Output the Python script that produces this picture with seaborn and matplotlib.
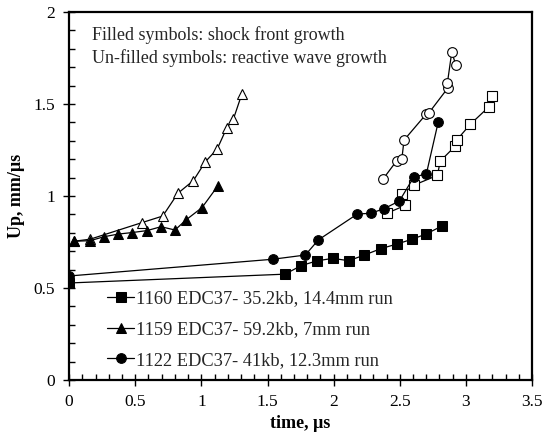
import numpy as np
import matplotlib
matplotlib.use('Agg')
import matplotlib.pyplot as plt
import seaborn as sns
from matplotlib.ticker import MultipleLocator

# shot 1160 - shock front (filled squares) and reactive wave (open squares)
t_1160 = [0.0, 1.633, 1.753, 1.872, 1.993, 2.114, 2.232, 2.358, 2.479, 2.593, 2.698, 2.819]
up_1160 = [0.527, 0.575, 0.621, 0.647, 0.661, 0.648, 0.679, 0.714, 0.739, 0.765, 0.793, 0.837]
t_1160r = [2.401, 2.542, 2.519, 2.610, 2.784, 2.806, 2.920, 2.930, 3.033, 3.175, 3.194]
up_1160r = [0.906, 0.949, 1.013, 1.060, 1.112, 1.190, 1.272, 1.304, 1.390, 1.486, 1.543]

# shot 1159 - triangles
t_1159 = [0.038, 0.159, 0.267, 0.373, 0.474, 0.590, 0.695, 0.801, 0.884, 1.005, 1.124]
up_1159 = [0.754, 0.757, 0.779, 0.793, 0.801, 0.812, 0.833, 0.815, 0.870, 0.937, 1.054]
t_1159r = [0.038, 0.159, 0.550, 0.708, 0.823, 0.940, 1.030, 1.120, 1.192, 1.242, 1.305]
up_1159r = [0.754, 0.765, 0.855, 0.891, 1.015, 1.084, 1.186, 1.256, 1.370, 1.418, 1.552]

# shot 1122 - circles
t_1122 = [0.0, 1.539, 1.786, 1.884, 2.179, 2.280, 2.381, 2.497, 2.605, 2.701, 2.791]
up_1122 = [0.565, 0.656, 0.679, 0.761, 0.902, 0.906, 0.931, 0.973, 1.102, 1.121, 1.404]
t_1122r = [2.371, 2.477, 2.515, 2.532, 2.698, 2.721, 2.865, 2.860, 2.893, 2.923]
up_1122r = [1.090, 1.192, 1.199, 1.304, 1.444, 1.453, 1.589, 1.616, 1.784, 1.712]

labels = ['1160 EDC37- 35.2kb, 14.4mm run',
          '1159 EDC37- 59.2kb, 7mm run',
          '1122 EDC37- 41kb, 12.3mm run']

sns.set_theme(style='ticks')
plt.rcParams['font.family'] = ['Liberation Serif', 'DejaVu Serif']

fig = plt.figure(figsize=(5.48, 4.48), dpi=100)
ax = fig.add_axes([0.126, 0.152, 0.845, 0.821])

lw = 0.9
# reactive wave (open symbols)
sns.lineplot(x=t_1160r, y=up_1160r, sort=False, ax=ax, color='black', lw=lw,
             marker='s', ms=7, mfc='white', mec='black', mew=0.8)
sns.lineplot(x=t_1159r, y=up_1159r, sort=False, ax=ax, color='black', lw=lw,
             marker='^', ms=7, mfc='white', mec='black', mew=0.8)
sns.lineplot(x=t_1122r, y=up_1122r, sort=False, ax=ax, color='black', lw=lw,
             marker='o', ms=7, mfc='white', mec='black', mew=0.8)

# shock front (filled symbols)
sns.lineplot(x=t_1160, y=up_1160, sort=False, ax=ax, color='black', lw=lw,
             marker='s', ms=7, mfc='black', mec='black', label=labels[0])
sns.lineplot(x=t_1159, y=up_1159, sort=False, ax=ax, color='black', lw=lw,
             marker='^', ms=7, mfc='black', mec='black', label=labels[1])
sns.lineplot(x=t_1122, y=up_1122, sort=False, ax=ax, color='black', lw=lw,
             marker='o', ms=7, mfc='black', mec='black', label=labels[2])

ax.set_xlim(0, 3.5)
ax.set_ylim(0, 2)
ax.xaxis.set_major_locator(MultipleLocator(0.5))
ax.xaxis.set_minor_locator(MultipleLocator(0.1))
ax.yaxis.set_major_locator(MultipleLocator(0.5))
ax.yaxis.set_minor_locator(MultipleLocator(0.1))
ax.set_xticklabels([f'{v:g}' for v in ax.get_xticks()])
ax.set_yticklabels([f'{v:g}' for v in ax.get_yticks()])
ax.tick_params(which='major', direction='inout', length=8, width=1, labelsize=12.5,
               colors='black', pad=6)
ax.tick_params(which='minor', direction='in', length=4, width=1, colors='black')
for s in ax.spines.values():
    s.set_visible(True)
    s.set_color('black')
    s.set_linewidth(1.6)

ax.set_xlabel('time, \u00b5s', fontsize=13, fontweight='bold', color='black', labelpad=4)
ax.set_ylabel('Up, mm/\u00b5s', fontsize=13, fontweight='bold', color='black', labelpad=6)

ax.text(0.05, 0.962, 'Filled symbols: shock front growth\nUn-filled symbols: reactive wave growth',
        transform=ax.transAxes, ha='left', va='top', fontsize=13, linespacing=1.4)

leg = ax.legend(loc='lower left', bbox_to_anchor=(0.058, 0.0), frameon=False,
                fontsize=13.2, handlelength=1.5, handletextpad=0.1,
                labelspacing=0.75, borderaxespad=0.2)

plt.savefig('out.png', dpi=100)
